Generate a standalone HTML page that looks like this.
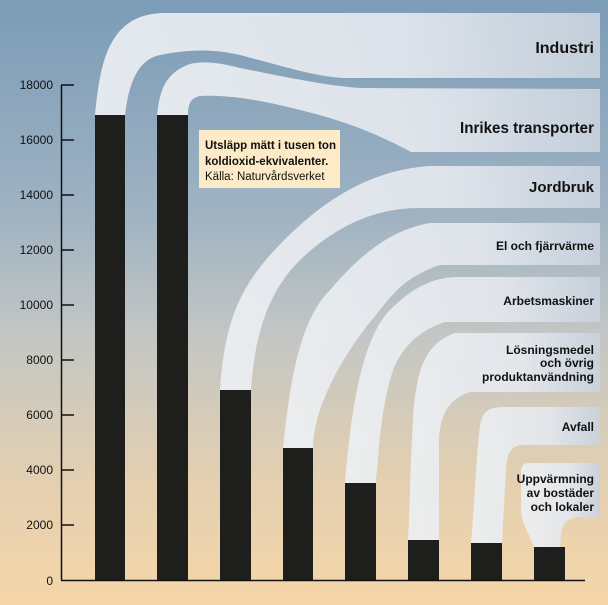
<!DOCTYPE html>
<html><head><meta charset="utf-8"><style>
body{margin:0;width:608px;height:605px;overflow:hidden}
svg{display:block}
text{font-family:"Liberation Sans",sans-serif;fill:#111}
</style></head><body>
<svg width="608" height="605" viewBox="0 0 608 605" xmlns="http://www.w3.org/2000/svg">
<defs>
<linearGradient id="bg" x1="0" y1="0" x2="0" y2="1">
<stop offset="0" stop-color="#7b9cb7"/>
<stop offset="0.35" stop-color="#9fb2c2"/>
<stop offset="0.55" stop-color="#c2c6c4"/>
<stop offset="0.78" stop-color="#e2cfb2"/>
<stop offset="1" stop-color="#f6d6a8"/>
</linearGradient>
<linearGradient id="band" x1="0" y1="0" x2="1" y2="0">
<stop offset="0" stop-color="#eceff2"/>
<stop offset="0.6" stop-color="#e4e8ee"/>
<stop offset="1" stop-color="#c8d2dd"/>
</linearGradient>
</defs>
<rect width="608" height="605" fill="url(#bg)"/>
<g fill="url(#band)" fill-opacity="0.92">
<path d="M95,115 C100,70 105,13 165,13 L600,13 L600,78 L350,78 C320,78 290,68 240,55 C210,48 185,50 160,55 C135,60 128,90 125,115 Z"/>
<path d="M157,115 C160,90 165,73 190,64 C205,60 225,64 240,68 C300,80 330,86 360,88 L600,89 L600,152 L411,152 C370,130 340,120 300,110 C250,97 220,95 200,96 C190,98 188,105 188,115 Z"/>
<path d="M220,390 C225,320 240,290 270,255 C320,200 370,170 430,166 L600,166 L600,208 L420,208 C380,208 340,222 300,260 C270,290 255,330 251,390 Z"/>
<path d="M283,448 C290,380 300,320 330,290 C360,255 390,230 430,223 L600,223 L600,265 L440,265 C410,275 395,290 380,310 C350,345 330,380 320,410 C315,425 313,440 313,448 Z"/>
<path d="M345,483 C350,420 360,340 390,310 C410,290 430,278 455,277 L600,277 L600,322 L445,322 C420,330 405,345 395,365 C385,390 380,430 378,460 C377,470 376,478 376,483 Z"/>
<path d="M408,540 C410,510 410,470 412,440 C414,380 420,345 455,333 L600,333 L600,392 L470,392 C445,400 440,420 439,440 L439,540 Z"/>
<path d="M471,543 C474,510 476,460 480,425 C483,410 490,407 505,407 L600,407 L600,445 L520,445 C510,447 507,455 506,470 L502,543 Z"/>
<path d="M534,547 C530,535 522,525 521,510 L521,472 C521,465 525,463 530,463 L600,463 L600,517 L578,517 C566,518 562,525 561,535 L560,547 Z"/>
</g>
<g fill="#1e1e1c">
<rect x="95" y="115" width="30" height="465"/>
<rect x="157" y="115" width="31" height="465"/>
<rect x="220" y="390" width="31" height="190"/>
<rect x="283" y="448" width="30" height="132"/>
<rect x="345" y="483" width="31" height="97"/>
<rect x="408" y="540" width="31" height="40"/>
<rect x="471" y="543" width="31" height="37"/>
<rect x="534" y="547" width="31" height="33"/>
</g>
<g stroke="#111" stroke-width="1.5" fill="none">
<line x1="61.5" y1="85" x2="61.5" y2="580"/>
<line x1="61" y1="580.5" x2="585" y2="580.5"/>
<path d="M61,85H74M61,140H74M61,195H74M61,250H74M61,305H74M61,360H74M61,415H74M61,470H74M61,525H74"/>
</g>
<g font-size="12" text-anchor="end">
<text x="53" y="89">18000</text><text x="53" y="144">16000</text><text x="53" y="199">14000</text>
<text x="53" y="254">12000</text><text x="53" y="309">10000</text><text x="53" y="364">8000</text>
<text x="53" y="419">6000</text><text x="53" y="474">4000</text><text x="53" y="529">2000</text>
<text x="53" y="585">0</text>
</g>
<rect x="199" y="130" width="141" height="58" fill="#fcebc6"/>
<text x="205" y="149" font-size="11.5" font-weight="bold">Utsläpp mätt i tusen ton</text>
<text x="205" y="165" font-size="11.5" font-weight="bold">koldioxid-ekvivalenter.</text>
<text x="205" y="180" font-size="11.5">Källa: Naturvårdsverket</text>
<g text-anchor="end" font-weight="bold">
<text x="594" y="53" font-size="16">Industri</text>
<text x="594" y="133" font-size="16" textLength="134" lengthAdjust="spacingAndGlyphs">Inrikes transporter</text>
<text x="594" y="192" font-size="15">Jordbruk</text>
<text x="594" y="250" font-size="12">El och fjärrvärme</text>
<text x="594" y="305" font-size="12">Arbetsmaskiner</text>
<text x="594" y="354" font-size="12">Lösningsmedel</text>
<text x="594" y="367" font-size="12">och övrig</text>
<text x="594" y="381" font-size="12">produktanvändning</text>
<text x="594" y="431" font-size="12">Avfall</text>
<text x="594" y="483" font-size="12">Uppvärmning</text>
<text x="594" y="497" font-size="12">av bostäder</text>
<text x="594" y="511" font-size="12">och lokaler</text>
</g>
</svg>
</body></html>
